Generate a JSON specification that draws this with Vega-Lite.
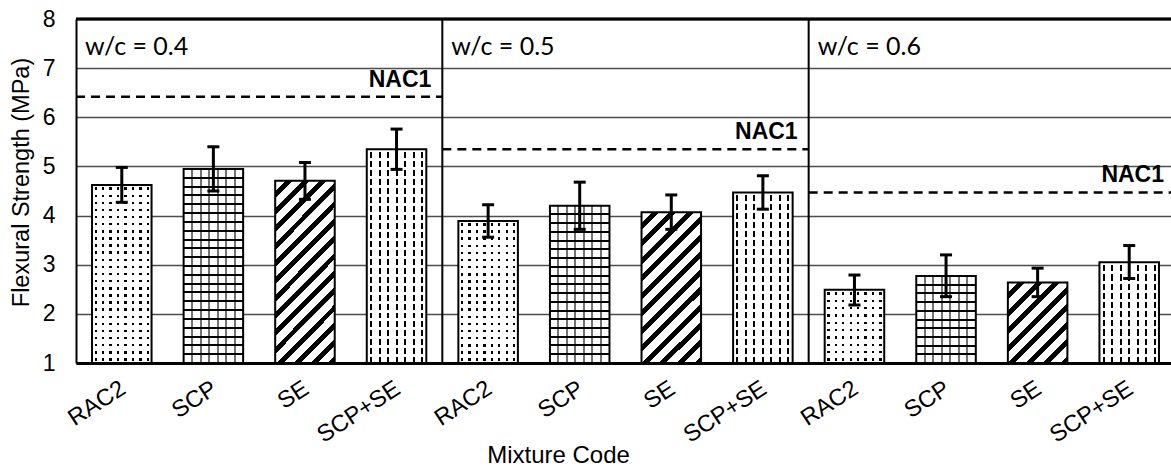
{
"$schema": "https://vega.github.io/schema/vega-lite/v6.json",
"width": 1099, "height": 344,
"autosize": {"type": "none"},
"padding": {"left": 76, "top": 19, "right": 0, "bottom": 105},
"background": "white",
"config": {"view": {"stroke": null}, "font": "Liberation Sans",
"axis": {"labelColor": "#000", "titleColor": "#000", "labelFont": "Liberation Sans", "titleFont": "Liberation Sans"},
"axisY": {"tickCount": 8, "grid": true, "gridColor": "#4d4d4d", "gridWidth": 1.3, "domainColor": "#000", "domainWidth": 2, "ticks": false, "tickSize": 0, "labelPadding": 21, "labelFontSize": 23, "titleFontSize": 23.5, "titleFontWeight": "normal", "titlePadding": 9}},
"datasets": {
"bars": [
{"wc":"0.4","code":"RAC2","id":"0.4 RAC2","mean":4.62,"lo":4.27,"hi":4.98},
{"wc":"0.4","code":"SCP","id":"0.4 SCP","mean":4.95,"lo":4.50,"hi":5.40},
{"wc":"0.4","code":"SE","id":"0.4 SE","mean":4.71,"lo":4.33,"hi":5.08},
{"wc":"0.4","code":"SCP+SE","id":"0.4 SCP+SE","mean":5.35,"lo":4.94,"hi":5.76},
{"wc":"0.5","code":"RAC2","id":"0.5 RAC2","mean":3.89,"lo":3.56,"hi":4.22},
{"wc":"0.5","code":"SCP","id":"0.5 SCP","mean":4.20,"lo":3.72,"hi":4.68},
{"wc":"0.5","code":"SE","id":"0.5 SE","mean":4.07,"lo":3.72,"hi":4.42},
{"wc":"0.5","code":"SCP+SE","id":"0.5 SCP+SE","mean":4.47,"lo":4.13,"hi":4.81},
{"wc":"0.6","code":"RAC2","id":"0.6 RAC2","mean":2.49,"lo":2.18,"hi":2.79},
{"wc":"0.6","code":"SCP","id":"0.6 SCP","mean":2.77,"lo":2.35,"hi":3.20},
{"wc":"0.6","code":"SE","id":"0.6 SE","mean":2.64,"lo":2.35,"hi":2.93},
{"wc":"0.6","code":"SCP+SE","id":"0.6 SCP+SE","mean":3.05,"lo":2.72,"hi":3.39}
],
"groups": [
{"wc":"0.4","g0":0,"g1":4,"nac":6.42,"label":"w/c = 0.4"},
{"wc":"0.5","g0":4,"g1":8,"nac":5.35,"label":"w/c = 0.5"},
{"wc":"0.6","g0":8,"g1":12,"nac":4.47,"label":"w/c = 0.6"}
]
},
"resolve": {"scale": {"x": "independent"}, "axis": {"x": "independent"}},
"layer": [
{
"data": {"name": "bars"},
"encoding": {
"x": {"field": "id", "type": "nominal", "sort": null, "title": "Mixture Code",
"scale": {"paddingInner": 0.35, "paddingOuter": 0.175},
"axis": {"labelExpr": "split(datum.label, ' ')[1]", "labelAngle": -33, "labelAlign": "right", "labelBaseline": "top", "labelFontSize": 23.5, "labelPadding": 13, "labelOffset": -5, "ticks": false, "tickSize": 0, "domainColor": "#000", "domainWidth": 3, "titleFontSize": 24, "titleFontWeight": "normal", "titleX": 482, "titleY": 99, "titleBaseline": "alphabetic"}}
},
"layer": [
{
"encoding": {
"y": {"field": "mean", "type": "quantitative", "title": "Flexural Strength (MPa)", "scale": {"domain": [1, 8], "nice": false, "zero": false},
"axis": {"tickCount": 8, "grid": true, "gridColor": "#4d4d4d", "gridWidth": 1.3, "domainColor": "#000", "domainWidth": 2, "ticks": false, "tickSize": 0, "labelPadding": 21, "labelFontSize": 23, "titleFontSize": 23.5, "titleFontWeight": "normal", "titlePadding": 9, "titleY": 163}},
"y2": {"datum": 1}
},
"layer": [
{"mark": {"type": "bar"},
"encoding": {"fill": {"condition": [
{"test": "datum.code==='SE' && datum.wc==='0.4'", "value": {"gradient":"linear","x1":0,"y1":0,"x2":0.395,"y2":1.2,"stops":[
{"offset":0,"color":"#fff"},
{"offset":0.0429,"color":"#fff"},{"offset":0.0429,"color":"#000"},{"offset":0.0714,"color":"#000"},{"offset":0.0714,"color":"#fff"},
{"offset":0.1143,"color":"#fff"},{"offset":0.1143,"color":"#000"},{"offset":0.1429,"color":"#000"},{"offset":0.1429,"color":"#fff"},
{"offset":0.1857,"color":"#fff"},{"offset":0.1857,"color":"#000"},{"offset":0.2143,"color":"#000"},{"offset":0.2143,"color":"#fff"},
{"offset":0.2571,"color":"#fff"},{"offset":0.2571,"color":"#000"},{"offset":0.2857,"color":"#000"},{"offset":0.2857,"color":"#fff"},
{"offset":0.3286,"color":"#fff"},{"offset":0.3286,"color":"#000"},{"offset":0.3571,"color":"#000"},{"offset":0.3571,"color":"#fff"},
{"offset":0.4,"color":"#fff"},{"offset":0.4,"color":"#000"},{"offset":0.4286,"color":"#000"},{"offset":0.4286,"color":"#fff"},
{"offset":0.4714,"color":"#fff"},{"offset":0.4714,"color":"#000"},{"offset":0.5,"color":"#000"},{"offset":0.5,"color":"#fff"},
{"offset":0.5429,"color":"#fff"},{"offset":0.5429,"color":"#000"},{"offset":0.5714,"color":"#000"},{"offset":0.5714,"color":"#fff"},
{"offset":0.6143,"color":"#fff"},{"offset":0.6143,"color":"#000"},{"offset":0.6429,"color":"#000"},{"offset":0.6429,"color":"#fff"},
{"offset":0.6857,"color":"#fff"},{"offset":0.6857,"color":"#000"},{"offset":0.7143,"color":"#000"},{"offset":0.7143,"color":"#fff"},
{"offset":0.7571,"color":"#fff"},{"offset":0.7571,"color":"#000"},{"offset":0.7857,"color":"#000"},{"offset":0.7857,"color":"#fff"},
{"offset":0.8286,"color":"#fff"},{"offset":0.8286,"color":"#000"},{"offset":0.8571,"color":"#000"},{"offset":0.8571,"color":"#fff"},
{"offset":0.9,"color":"#fff"},{"offset":0.9,"color":"#000"},{"offset":0.9286,"color":"#000"},{"offset":0.9286,"color":"#fff"},
{"offset":0.9714,"color":"#fff"},{"offset":0.9714,"color":"#000"},{"offset":1,"color":"#000"}]}},
{"test": "datum.code==='SE' && datum.wc==='0.5'", "value": {"gradient":"linear","x1":0,"y1":0,"x2":0.475,"y2":1.207,"stops":[
{"offset":0,"color":"#fff"},
{"offset":0.05,"color":"#fff"},{"offset":0.05,"color":"#000"},{"offset":0.0833,"color":"#000"},{"offset":0.0833,"color":"#fff"},
{"offset":0.1333,"color":"#fff"},{"offset":0.1333,"color":"#000"},{"offset":0.1667,"color":"#000"},{"offset":0.1667,"color":"#fff"},
{"offset":0.2167,"color":"#fff"},{"offset":0.2167,"color":"#000"},{"offset":0.25,"color":"#000"},{"offset":0.25,"color":"#fff"},
{"offset":0.3,"color":"#fff"},{"offset":0.3,"color":"#000"},{"offset":0.3333,"color":"#000"},{"offset":0.3333,"color":"#fff"},
{"offset":0.3833,"color":"#fff"},{"offset":0.3833,"color":"#000"},{"offset":0.4167,"color":"#000"},{"offset":0.4167,"color":"#fff"},
{"offset":0.4667,"color":"#fff"},{"offset":0.4667,"color":"#000"},{"offset":0.5,"color":"#000"},{"offset":0.5,"color":"#fff"},
{"offset":0.55,"color":"#fff"},{"offset":0.55,"color":"#000"},{"offset":0.5833,"color":"#000"},{"offset":0.5833,"color":"#fff"},
{"offset":0.6333,"color":"#fff"},{"offset":0.6333,"color":"#000"},{"offset":0.6667,"color":"#000"},{"offset":0.6667,"color":"#fff"},
{"offset":0.7167,"color":"#fff"},{"offset":0.7167,"color":"#000"},{"offset":0.75,"color":"#000"},{"offset":0.75,"color":"#fff"},
{"offset":0.8,"color":"#fff"},{"offset":0.8,"color":"#000"},{"offset":0.8333,"color":"#000"},{"offset":0.8333,"color":"#fff"},
{"offset":0.8833,"color":"#fff"},{"offset":0.8833,"color":"#000"},{"offset":0.9167,"color":"#000"},{"offset":0.9167,"color":"#fff"},
{"offset":0.9667,"color":"#fff"},{"offset":0.9667,"color":"#000"},{"offset":1,"color":"#000"}]}},
{"test": "datum.code==='SE' && datum.wc==='0.6'", "value": {"gradient":"linear","x1":0,"y1":0,"x2":0.828,"y2":1.127,"stops":[
{"offset":0,"color":"#fff"},
{"offset":0.075,"color":"#fff"},{"offset":0.075,"color":"#000"},{"offset":0.125,"color":"#000"},{"offset":0.125,"color":"#fff"},
{"offset":0.2,"color":"#fff"},{"offset":0.2,"color":"#000"},{"offset":0.25,"color":"#000"},{"offset":0.25,"color":"#fff"},
{"offset":0.325,"color":"#fff"},{"offset":0.325,"color":"#000"},{"offset":0.375,"color":"#000"},{"offset":0.375,"color":"#fff"},
{"offset":0.45,"color":"#fff"},{"offset":0.45,"color":"#000"},{"offset":0.5,"color":"#000"},{"offset":0.5,"color":"#fff"},
{"offset":0.575,"color":"#fff"},{"offset":0.575,"color":"#000"},{"offset":0.625,"color":"#000"},{"offset":0.625,"color":"#fff"},
{"offset":0.7,"color":"#fff"},{"offset":0.7,"color":"#000"},{"offset":0.75,"color":"#000"},{"offset":0.75,"color":"#fff"},
{"offset":0.825,"color":"#fff"},{"offset":0.825,"color":"#000"},{"offset":0.875,"color":"#000"},{"offset":0.875,"color":"#fff"},
{"offset":0.95,"color":"#fff"},{"offset":0.95,"color":"#000"},{"offset":1,"color":"#000"}]}},
{"test": "datum.code==='SCP'", "value": "#fff"}
], "value": "#000"}}
},
{"mark": {"type": "bar"},
"encoding": {"fill": {"condition": [
{"test": "datum.code==='RAC2'", "value": {"gradient":"linear","x1":0,"y1":0,"x2":1,"y2":0,"stops":[
{"offset":0,"color":"#fff"},
{"offset":0.0425,"color":"#fff"},{"offset":0.0425,"color":"rgba(255,255,255,0)"},{"offset":0.0825,"color":"rgba(255,255,255,0)"},{"offset":0.0825,"color":"#fff"},
{"offset":0.1675,"color":"#fff"},{"offset":0.1675,"color":"rgba(255,255,255,0)"},{"offset":0.2075,"color":"rgba(255,255,255,0)"},{"offset":0.2075,"color":"#fff"},
{"offset":0.2925,"color":"#fff"},{"offset":0.2925,"color":"rgba(255,255,255,0)"},{"offset":0.3325,"color":"rgba(255,255,255,0)"},{"offset":0.3325,"color":"#fff"},
{"offset":0.4175,"color":"#fff"},{"offset":0.4175,"color":"rgba(255,255,255,0)"},{"offset":0.4575,"color":"rgba(255,255,255,0)"},{"offset":0.4575,"color":"#fff"},
{"offset":0.5425,"color":"#fff"},{"offset":0.5425,"color":"rgba(255,255,255,0)"},{"offset":0.5825,"color":"rgba(255,255,255,0)"},{"offset":0.5825,"color":"#fff"},
{"offset":0.6675,"color":"#fff"},{"offset":0.6675,"color":"rgba(255,255,255,0)"},{"offset":0.7075,"color":"rgba(255,255,255,0)"},{"offset":0.7075,"color":"#fff"},
{"offset":0.7925,"color":"#fff"},{"offset":0.7925,"color":"rgba(255,255,255,0)"},{"offset":0.8325,"color":"rgba(255,255,255,0)"},{"offset":0.8325,"color":"#fff"},
{"offset":0.9175,"color":"#fff"},{"offset":0.9175,"color":"rgba(255,255,255,0)"},{"offset":0.9575,"color":"rgba(255,255,255,0)"},{"offset":0.9575,"color":"#fff"},
{"offset":1,"color":"#fff"}]}},
{"test": "datum.code==='SCP'", "value": {"gradient":"linear","x1":0,"y1":0,"x2":1,"y2":0,"stops":[
{"offset":0,"color":"rgba(0,0,0,0)"},
{"offset":0.126,"color":"rgba(0,0,0,0)"},{"offset":0.126,"color":"rgba(0,0,0,0.55)"},{"offset":0.16,"color":"rgba(0,0,0,0.55)"},{"offset":0.16,"color":"rgba(0,0,0,0)"},
{"offset":0.269,"color":"rgba(0,0,0,0)"},{"offset":0.269,"color":"rgba(0,0,0,0.55)"},{"offset":0.303,"color":"rgba(0,0,0,0.55)"},{"offset":0.303,"color":"rgba(0,0,0,0)"},
{"offset":0.412,"color":"rgba(0,0,0,0)"},{"offset":0.412,"color":"rgba(0,0,0,0.55)"},{"offset":0.446,"color":"rgba(0,0,0,0.55)"},{"offset":0.446,"color":"rgba(0,0,0,0)"},
{"offset":0.554,"color":"rgba(0,0,0,0)"},{"offset":0.554,"color":"rgba(0,0,0,0.55)"},{"offset":0.588,"color":"rgba(0,0,0,0.55)"},{"offset":0.588,"color":"rgba(0,0,0,0)"},
{"offset":0.697,"color":"rgba(0,0,0,0)"},{"offset":0.697,"color":"rgba(0,0,0,0.55)"},{"offset":0.731,"color":"rgba(0,0,0,0.55)"},{"offset":0.731,"color":"rgba(0,0,0,0)"},
{"offset":0.84,"color":"rgba(0,0,0,0)"},{"offset":0.84,"color":"rgba(0,0,0,0.55)"},{"offset":0.874,"color":"rgba(0,0,0,0.55)"},{"offset":0.874,"color":"rgba(0,0,0,0)"},
{"offset":1,"color":"rgba(0,0,0,0)"}]}},
{"test": "datum.code==='SCP+SE'", "value": {"gradient":"linear","x1":0,"y1":0,"x2":1,"y2":0,"stops":[
{"offset":0,"color":"#fff"},
{"offset":0.055,"color":"#fff"},{"offset":0.055,"color":"rgba(255,255,255,0)"},{"offset":0.088,"color":"rgba(255,255,255,0)"},{"offset":0.088,"color":"#fff"},
{"offset":0.198,"color":"#fff"},{"offset":0.198,"color":"rgba(255,255,255,0)"},{"offset":0.231,"color":"rgba(255,255,255,0)"},{"offset":0.231,"color":"#fff"},
{"offset":0.34,"color":"#fff"},{"offset":0.34,"color":"rgba(255,255,255,0)"},{"offset":0.374,"color":"rgba(255,255,255,0)"},{"offset":0.374,"color":"#fff"},
{"offset":0.483,"color":"#fff"},{"offset":0.483,"color":"rgba(255,255,255,0)"},{"offset":0.517,"color":"rgba(255,255,255,0)"},{"offset":0.517,"color":"#fff"},
{"offset":0.626,"color":"#fff"},{"offset":0.626,"color":"rgba(255,255,255,0)"},{"offset":0.66,"color":"rgba(255,255,255,0)"},{"offset":0.66,"color":"#fff"},
{"offset":0.769,"color":"#fff"},{"offset":0.769,"color":"rgba(255,255,255,0)"},{"offset":0.802,"color":"rgba(255,255,255,0)"},{"offset":0.802,"color":"#fff"},
{"offset":0.912,"color":"#fff"},{"offset":0.912,"color":"rgba(255,255,255,0)"},{"offset":0.945,"color":"rgba(255,255,255,0)"},{"offset":0.945,"color":"#fff"},
{"offset":1,"color":"#fff"}]}}
], "value": "transparent"}}
},
{"mark": {"type": "bar"},
"encoding": {"fill": {"condition": [
{"test": "datum.code==='RAC2' && datum.wc==='0.4'", "value": {"gradient":"linear","x1":0,"y1":0,"x2":0,"y2":1,"stops":[
{"offset":0,"color":"#fff"},
{"offset":0.013,"color":"#fff"},{"offset":0.013,"color":"rgba(255,255,255,0)"},{"offset":0.027,"color":"rgba(255,255,255,0)"},{"offset":0.027,"color":"#fff"},
{"offset":0.053,"color":"#fff"},{"offset":0.053,"color":"rgba(255,255,255,0)"},{"offset":0.067,"color":"rgba(255,255,255,0)"},{"offset":0.067,"color":"#fff"},
{"offset":0.093,"color":"#fff"},{"offset":0.093,"color":"rgba(255,255,255,0)"},{"offset":0.107,"color":"rgba(255,255,255,0)"},{"offset":0.107,"color":"#fff"},
{"offset":0.133,"color":"#fff"},{"offset":0.133,"color":"rgba(255,255,255,0)"},{"offset":0.147,"color":"rgba(255,255,255,0)"},{"offset":0.147,"color":"#fff"},
{"offset":0.173,"color":"#fff"},{"offset":0.173,"color":"rgba(255,255,255,0)"},{"offset":0.187,"color":"rgba(255,255,255,0)"},{"offset":0.187,"color":"#fff"},
{"offset":0.213,"color":"#fff"},{"offset":0.213,"color":"rgba(255,255,255,0)"},{"offset":0.227,"color":"rgba(255,255,255,0)"},{"offset":0.227,"color":"#fff"},
{"offset":0.253,"color":"#fff"},{"offset":0.253,"color":"rgba(255,255,255,0)"},{"offset":0.267,"color":"rgba(255,255,255,0)"},{"offset":0.267,"color":"#fff"},
{"offset":0.293,"color":"#fff"},{"offset":0.293,"color":"rgba(255,255,255,0)"},{"offset":0.307,"color":"rgba(255,255,255,0)"},{"offset":0.307,"color":"#fff"},
{"offset":0.333,"color":"#fff"},{"offset":0.333,"color":"rgba(255,255,255,0)"},{"offset":0.347,"color":"rgba(255,255,255,0)"},{"offset":0.347,"color":"#fff"},
{"offset":0.373,"color":"#fff"},{"offset":0.373,"color":"rgba(255,255,255,0)"},{"offset":0.387,"color":"rgba(255,255,255,0)"},{"offset":0.387,"color":"#fff"},
{"offset":0.413,"color":"#fff"},{"offset":0.413,"color":"rgba(255,255,255,0)"},{"offset":0.427,"color":"rgba(255,255,255,0)"},{"offset":0.427,"color":"#fff"},
{"offset":0.453,"color":"#fff"},{"offset":0.453,"color":"rgba(255,255,255,0)"},{"offset":0.467,"color":"rgba(255,255,255,0)"},{"offset":0.467,"color":"#fff"},
{"offset":0.493,"color":"#fff"},{"offset":0.493,"color":"rgba(255,255,255,0)"},{"offset":0.507,"color":"rgba(255,255,255,0)"},{"offset":0.507,"color":"#fff"},
{"offset":0.533,"color":"#fff"},{"offset":0.533,"color":"rgba(255,255,255,0)"},{"offset":0.547,"color":"rgba(255,255,255,0)"},{"offset":0.547,"color":"#fff"},
{"offset":0.573,"color":"#fff"},{"offset":0.573,"color":"rgba(255,255,255,0)"},{"offset":0.587,"color":"rgba(255,255,255,0)"},{"offset":0.587,"color":"#fff"},
{"offset":0.613,"color":"#fff"},{"offset":0.613,"color":"rgba(255,255,255,0)"},{"offset":0.627,"color":"rgba(255,255,255,0)"},{"offset":0.627,"color":"#fff"},
{"offset":0.653,"color":"#fff"},{"offset":0.653,"color":"rgba(255,255,255,0)"},{"offset":0.667,"color":"rgba(255,255,255,0)"},{"offset":0.667,"color":"#fff"},
{"offset":0.693,"color":"#fff"},{"offset":0.693,"color":"rgba(255,255,255,0)"},{"offset":0.707,"color":"rgba(255,255,255,0)"},{"offset":0.707,"color":"#fff"},
{"offset":0.733,"color":"#fff"},{"offset":0.733,"color":"rgba(255,255,255,0)"},{"offset":0.747,"color":"rgba(255,255,255,0)"},{"offset":0.747,"color":"#fff"},
{"offset":0.773,"color":"#fff"},{"offset":0.773,"color":"rgba(255,255,255,0)"},{"offset":0.787,"color":"rgba(255,255,255,0)"},{"offset":0.787,"color":"#fff"},
{"offset":0.813,"color":"#fff"},{"offset":0.813,"color":"rgba(255,255,255,0)"},{"offset":0.827,"color":"rgba(255,255,255,0)"},{"offset":0.827,"color":"#fff"},
{"offset":0.853,"color":"#fff"},{"offset":0.853,"color":"rgba(255,255,255,0)"},{"offset":0.867,"color":"rgba(255,255,255,0)"},{"offset":0.867,"color":"#fff"},
{"offset":0.893,"color":"#fff"},{"offset":0.893,"color":"rgba(255,255,255,0)"},{"offset":0.907,"color":"rgba(255,255,255,0)"},{"offset":0.907,"color":"#fff"},
{"offset":0.933,"color":"#fff"},{"offset":0.933,"color":"rgba(255,255,255,0)"},{"offset":0.947,"color":"rgba(255,255,255,0)"},{"offset":0.947,"color":"#fff"},
{"offset":0.973,"color":"#fff"},{"offset":0.973,"color":"rgba(255,255,255,0)"},{"offset":0.987,"color":"rgba(255,255,255,0)"},{"offset":0.987,"color":"#fff"},
{"offset":1,"color":"#fff"}]}},
{"test": "datum.code==='RAC2' && datum.wc==='0.5'", "value": {"gradient":"linear","x1":0,"y1":0,"x2":0,"y2":1,"stops":[
{"offset":0,"color":"#fff"},
{"offset":0.016,"color":"#fff"},{"offset":0.016,"color":"rgba(255,255,255,0)"},{"offset":0.034,"color":"rgba(255,255,255,0)"},{"offset":0.034,"color":"#fff"},
{"offset":0.066,"color":"#fff"},{"offset":0.066,"color":"rgba(255,255,255,0)"},{"offset":0.084,"color":"rgba(255,255,255,0)"},{"offset":0.084,"color":"#fff"},
{"offset":0.116,"color":"#fff"},{"offset":0.116,"color":"rgba(255,255,255,0)"},{"offset":0.134,"color":"rgba(255,255,255,0)"},{"offset":0.134,"color":"#fff"},
{"offset":0.166,"color":"#fff"},{"offset":0.166,"color":"rgba(255,255,255,0)"},{"offset":0.184,"color":"rgba(255,255,255,0)"},{"offset":0.184,"color":"#fff"},
{"offset":0.216,"color":"#fff"},{"offset":0.216,"color":"rgba(255,255,255,0)"},{"offset":0.234,"color":"rgba(255,255,255,0)"},{"offset":0.234,"color":"#fff"},
{"offset":0.266,"color":"#fff"},{"offset":0.266,"color":"rgba(255,255,255,0)"},{"offset":0.284,"color":"rgba(255,255,255,0)"},{"offset":0.284,"color":"#fff"},
{"offset":0.316,"color":"#fff"},{"offset":0.316,"color":"rgba(255,255,255,0)"},{"offset":0.334,"color":"rgba(255,255,255,0)"},{"offset":0.334,"color":"#fff"},
{"offset":0.366,"color":"#fff"},{"offset":0.366,"color":"rgba(255,255,255,0)"},{"offset":0.384,"color":"rgba(255,255,255,0)"},{"offset":0.384,"color":"#fff"},
{"offset":0.416,"color":"#fff"},{"offset":0.416,"color":"rgba(255,255,255,0)"},{"offset":0.434,"color":"rgba(255,255,255,0)"},{"offset":0.434,"color":"#fff"},
{"offset":0.466,"color":"#fff"},{"offset":0.466,"color":"rgba(255,255,255,0)"},{"offset":0.484,"color":"rgba(255,255,255,0)"},{"offset":0.484,"color":"#fff"},
{"offset":0.516,"color":"#fff"},{"offset":0.516,"color":"rgba(255,255,255,0)"},{"offset":0.534,"color":"rgba(255,255,255,0)"},{"offset":0.534,"color":"#fff"},
{"offset":0.566,"color":"#fff"},{"offset":0.566,"color":"rgba(255,255,255,0)"},{"offset":0.584,"color":"rgba(255,255,255,0)"},{"offset":0.584,"color":"#fff"},
{"offset":0.616,"color":"#fff"},{"offset":0.616,"color":"rgba(255,255,255,0)"},{"offset":0.634,"color":"rgba(255,255,255,0)"},{"offset":0.634,"color":"#fff"},
{"offset":0.666,"color":"#fff"},{"offset":0.666,"color":"rgba(255,255,255,0)"},{"offset":0.684,"color":"rgba(255,255,255,0)"},{"offset":0.684,"color":"#fff"},
{"offset":0.716,"color":"#fff"},{"offset":0.716,"color":"rgba(255,255,255,0)"},{"offset":0.734,"color":"rgba(255,255,255,0)"},{"offset":0.734,"color":"#fff"},
{"offset":0.766,"color":"#fff"},{"offset":0.766,"color":"rgba(255,255,255,0)"},{"offset":0.784,"color":"rgba(255,255,255,0)"},{"offset":0.784,"color":"#fff"},
{"offset":0.816,"color":"#fff"},{"offset":0.816,"color":"rgba(255,255,255,0)"},{"offset":0.834,"color":"rgba(255,255,255,0)"},{"offset":0.834,"color":"#fff"},
{"offset":0.866,"color":"#fff"},{"offset":0.866,"color":"rgba(255,255,255,0)"},{"offset":0.884,"color":"rgba(255,255,255,0)"},{"offset":0.884,"color":"#fff"},
{"offset":0.916,"color":"#fff"},{"offset":0.916,"color":"rgba(255,255,255,0)"},{"offset":0.934,"color":"rgba(255,255,255,0)"},{"offset":0.934,"color":"#fff"},
{"offset":0.966,"color":"#fff"},{"offset":0.966,"color":"rgba(255,255,255,0)"},{"offset":0.984,"color":"rgba(255,255,255,0)"},{"offset":0.984,"color":"#fff"},
{"offset":1,"color":"#fff"}]}},
{"test": "datum.code==='RAC2' && datum.wc==='0.6'", "value": {"gradient":"linear","x1":0,"y1":0,"x2":0,"y2":1,"stops":[
{"offset":0,"color":"#fff"},
{"offset":0.034,"color":"#fff"},{"offset":0.034,"color":"rgba(255,255,255,0)"},{"offset":0.066,"color":"rgba(255,255,255,0)"},{"offset":0.066,"color":"#fff"},
{"offset":0.134,"color":"#fff"},{"offset":0.134,"color":"rgba(255,255,255,0)"},{"offset":0.166,"color":"rgba(255,255,255,0)"},{"offset":0.166,"color":"#fff"},
{"offset":0.234,"color":"#fff"},{"offset":0.234,"color":"rgba(255,255,255,0)"},{"offset":0.266,"color":"rgba(255,255,255,0)"},{"offset":0.266,"color":"#fff"},
{"offset":0.334,"color":"#fff"},{"offset":0.334,"color":"rgba(255,255,255,0)"},{"offset":0.366,"color":"rgba(255,255,255,0)"},{"offset":0.366,"color":"#fff"},
{"offset":0.434,"color":"#fff"},{"offset":0.434,"color":"rgba(255,255,255,0)"},{"offset":0.466,"color":"rgba(255,255,255,0)"},{"offset":0.466,"color":"#fff"},
{"offset":0.534,"color":"#fff"},{"offset":0.534,"color":"rgba(255,255,255,0)"},{"offset":0.566,"color":"rgba(255,255,255,0)"},{"offset":0.566,"color":"#fff"},
{"offset":0.634,"color":"#fff"},{"offset":0.634,"color":"rgba(255,255,255,0)"},{"offset":0.666,"color":"rgba(255,255,255,0)"},{"offset":0.666,"color":"#fff"},
{"offset":0.734,"color":"#fff"},{"offset":0.734,"color":"rgba(255,255,255,0)"},{"offset":0.766,"color":"rgba(255,255,255,0)"},{"offset":0.766,"color":"#fff"},
{"offset":0.834,"color":"#fff"},{"offset":0.834,"color":"rgba(255,255,255,0)"},{"offset":0.866,"color":"rgba(255,255,255,0)"},{"offset":0.866,"color":"#fff"},
{"offset":0.934,"color":"#fff"},{"offset":0.934,"color":"rgba(255,255,255,0)"},{"offset":0.966,"color":"rgba(255,255,255,0)"},{"offset":0.966,"color":"#fff"},
{"offset":1,"color":"#fff"}]}},
{"test": "datum.code==='SCP' && datum.wc==='0.4'", "value": {"gradient":"linear","x1":0,"y1":0,"x2":0,"y2":1,"stops":[
{"offset":0,"color":"rgba(0,0,0,0)"},
{"offset":0.04,"color":"rgba(0,0,0,0)"},{"offset":0.04,"color":"#000"},{"offset":0.051,"color":"#000"},{"offset":0.051,"color":"rgba(0,0,0,0)"},
{"offset":0.086,"color":"rgba(0,0,0,0)"},{"offset":0.086,"color":"#000"},{"offset":0.096,"color":"#000"},{"offset":0.096,"color":"rgba(0,0,0,0)"},
{"offset":0.131,"color":"rgba(0,0,0,0)"},{"offset":0.131,"color":"#000"},{"offset":0.141,"color":"#000"},{"offset":0.141,"color":"rgba(0,0,0,0)"},
{"offset":0.177,"color":"rgba(0,0,0,0)"},{"offset":0.177,"color":"#000"},{"offset":0.187,"color":"#000"},{"offset":0.187,"color":"rgba(0,0,0,0)"},
{"offset":0.222,"color":"rgba(0,0,0,0)"},{"offset":0.222,"color":"#000"},{"offset":0.232,"color":"#000"},{"offset":0.232,"color":"rgba(0,0,0,0)"},
{"offset":0.268,"color":"rgba(0,0,0,0)"},{"offset":0.268,"color":"#000"},{"offset":0.278,"color":"#000"},{"offset":0.278,"color":"rgba(0,0,0,0)"},
{"offset":0.313,"color":"rgba(0,0,0,0)"},{"offset":0.313,"color":"#000"},{"offset":0.323,"color":"#000"},{"offset":0.323,"color":"rgba(0,0,0,0)"},
{"offset":0.359,"color":"rgba(0,0,0,0)"},{"offset":0.359,"color":"#000"},{"offset":0.369,"color":"#000"},{"offset":0.369,"color":"rgba(0,0,0,0)"},
{"offset":0.404,"color":"rgba(0,0,0,0)"},{"offset":0.404,"color":"#000"},{"offset":0.414,"color":"#000"},{"offset":0.414,"color":"rgba(0,0,0,0)"},
{"offset":0.45,"color":"rgba(0,0,0,0)"},{"offset":0.45,"color":"#000"},{"offset":0.46,"color":"#000"},{"offset":0.46,"color":"rgba(0,0,0,0)"},
{"offset":0.495,"color":"rgba(0,0,0,0)"},{"offset":0.495,"color":"#000"},{"offset":0.505,"color":"#000"},{"offset":0.505,"color":"rgba(0,0,0,0)"},
{"offset":0.54,"color":"rgba(0,0,0,0)"},{"offset":0.54,"color":"#000"},{"offset":0.55,"color":"#000"},{"offset":0.55,"color":"rgba(0,0,0,0)"},
{"offset":0.586,"color":"rgba(0,0,0,0)"},{"offset":0.586,"color":"#000"},{"offset":0.596,"color":"#000"},{"offset":0.596,"color":"rgba(0,0,0,0)"},
{"offset":0.631,"color":"rgba(0,0,0,0)"},{"offset":0.631,"color":"#000"},{"offset":0.641,"color":"#000"},{"offset":0.641,"color":"rgba(0,0,0,0)"},
{"offset":0.677,"color":"rgba(0,0,0,0)"},{"offset":0.677,"color":"#000"},{"offset":0.687,"color":"#000"},{"offset":0.687,"color":"rgba(0,0,0,0)"},
{"offset":0.722,"color":"rgba(0,0,0,0)"},{"offset":0.722,"color":"#000"},{"offset":0.732,"color":"#000"},{"offset":0.732,"color":"rgba(0,0,0,0)"},
{"offset":0.768,"color":"rgba(0,0,0,0)"},{"offset":0.768,"color":"#000"},{"offset":0.778,"color":"#000"},{"offset":0.778,"color":"rgba(0,0,0,0)"},
{"offset":0.813,"color":"rgba(0,0,0,0)"},{"offset":0.813,"color":"#000"},{"offset":0.823,"color":"#000"},{"offset":0.823,"color":"rgba(0,0,0,0)"},
{"offset":0.859,"color":"rgba(0,0,0,0)"},{"offset":0.859,"color":"#000"},{"offset":0.869,"color":"#000"},{"offset":0.869,"color":"rgba(0,0,0,0)"},
{"offset":0.904,"color":"rgba(0,0,0,0)"},{"offset":0.904,"color":"#000"},{"offset":0.914,"color":"#000"},{"offset":0.914,"color":"rgba(0,0,0,0)"},
{"offset":0.95,"color":"rgba(0,0,0,0)"},{"offset":0.95,"color":"#000"},{"offset":0.96,"color":"#000"},{"offset":0.96,"color":"rgba(0,0,0,0)"},
{"offset":1,"color":"rgba(0,0,0,0)"}]}},
{"test": "datum.code==='SCP' && datum.wc==='0.5'", "value": {"gradient":"linear","x1":0,"y1":0,"x2":0,"y2":1,"stops":[
{"offset":0,"color":"rgba(0,0,0,0)"},
{"offset":0.049,"color":"rgba(0,0,0,0)"},{"offset":0.049,"color":"#000"},{"offset":0.062,"color":"#000"},{"offset":0.062,"color":"rgba(0,0,0,0)"},
{"offset":0.105,"color":"rgba(0,0,0,0)"},{"offset":0.105,"color":"#000"},{"offset":0.118,"color":"#000"},{"offset":0.118,"color":"rgba(0,0,0,0)"},
{"offset":0.16,"color":"rgba(0,0,0,0)"},{"offset":0.16,"color":"#000"},{"offset":0.173,"color":"#000"},{"offset":0.173,"color":"rgba(0,0,0,0)"},
{"offset":0.216,"color":"rgba(0,0,0,0)"},{"offset":0.216,"color":"#000"},{"offset":0.229,"color":"#000"},{"offset":0.229,"color":"rgba(0,0,0,0)"},
{"offset":0.271,"color":"rgba(0,0,0,0)"},{"offset":0.271,"color":"#000"},{"offset":0.284,"color":"#000"},{"offset":0.284,"color":"rgba(0,0,0,0)"},
{"offset":0.327,"color":"rgba(0,0,0,0)"},{"offset":0.327,"color":"#000"},{"offset":0.34,"color":"#000"},{"offset":0.34,"color":"rgba(0,0,0,0)"},
{"offset":0.382,"color":"rgba(0,0,0,0)"},{"offset":0.382,"color":"#000"},{"offset":0.395,"color":"#000"},{"offset":0.395,"color":"rgba(0,0,0,0)"},
{"offset":0.438,"color":"rgba(0,0,0,0)"},{"offset":0.438,"color":"#000"},{"offset":0.451,"color":"#000"},{"offset":0.451,"color":"rgba(0,0,0,0)"},
{"offset":0.494,"color":"rgba(0,0,0,0)"},{"offset":0.494,"color":"#000"},{"offset":0.506,"color":"#000"},{"offset":0.506,"color":"rgba(0,0,0,0)"},
{"offset":0.549,"color":"rgba(0,0,0,0)"},{"offset":0.549,"color":"#000"},{"offset":0.562,"color":"#000"},{"offset":0.562,"color":"rgba(0,0,0,0)"},
{"offset":0.605,"color":"rgba(0,0,0,0)"},{"offset":0.605,"color":"#000"},{"offset":0.618,"color":"#000"},{"offset":0.618,"color":"rgba(0,0,0,0)"},
{"offset":0.66,"color":"rgba(0,0,0,0)"},{"offset":0.66,"color":"#000"},{"offset":0.673,"color":"#000"},{"offset":0.673,"color":"rgba(0,0,0,0)"},
{"offset":0.716,"color":"rgba(0,0,0,0)"},{"offset":0.716,"color":"#000"},{"offset":0.729,"color":"#000"},{"offset":0.729,"color":"rgba(0,0,0,0)"},
{"offset":0.771,"color":"rgba(0,0,0,0)"},{"offset":0.771,"color":"#000"},{"offset":0.784,"color":"#000"},{"offset":0.784,"color":"rgba(0,0,0,0)"},
{"offset":0.827,"color":"rgba(0,0,0,0)"},{"offset":0.827,"color":"#000"},{"offset":0.84,"color":"#000"},{"offset":0.84,"color":"rgba(0,0,0,0)"},
{"offset":0.882,"color":"rgba(0,0,0,0)"},{"offset":0.882,"color":"#000"},{"offset":0.895,"color":"#000"},{"offset":0.895,"color":"rgba(0,0,0,0)"},
{"offset":0.938,"color":"rgba(0,0,0,0)"},{"offset":0.938,"color":"#000"},{"offset":0.951,"color":"#000"},{"offset":0.951,"color":"rgba(0,0,0,0)"},
{"offset":1,"color":"rgba(0,0,0,0)"}]}},
{"test": "datum.code==='SCP' && datum.wc==='0.6'", "value": {"gradient":"linear","x1":0,"y1":0,"x2":0,"y2":1,"stops":[
{"offset":0,"color":"rgba(0,0,0,0)"},
{"offset":0.089,"color":"rgba(0,0,0,0)"},{"offset":0.089,"color":"#000"},{"offset":0.112,"color":"#000"},{"offset":0.112,"color":"rgba(0,0,0,0)"},
{"offset":0.189,"color":"rgba(0,0,0,0)"},{"offset":0.189,"color":"#000"},{"offset":0.212,"color":"#000"},{"offset":0.212,"color":"rgba(0,0,0,0)"},
{"offset":0.289,"color":"rgba(0,0,0,0)"},{"offset":0.289,"color":"#000"},{"offset":0.312,"color":"#000"},{"offset":0.312,"color":"rgba(0,0,0,0)"},
{"offset":0.389,"color":"rgba(0,0,0,0)"},{"offset":0.389,"color":"#000"},{"offset":0.412,"color":"#000"},{"offset":0.412,"color":"rgba(0,0,0,0)"},
{"offset":0.489,"color":"rgba(0,0,0,0)"},{"offset":0.489,"color":"#000"},{"offset":0.512,"color":"#000"},{"offset":0.512,"color":"rgba(0,0,0,0)"},
{"offset":0.589,"color":"rgba(0,0,0,0)"},{"offset":0.589,"color":"#000"},{"offset":0.612,"color":"#000"},{"offset":0.612,"color":"rgba(0,0,0,0)"},
{"offset":0.689,"color":"rgba(0,0,0,0)"},{"offset":0.689,"color":"#000"},{"offset":0.712,"color":"#000"},{"offset":0.712,"color":"rgba(0,0,0,0)"},
{"offset":0.789,"color":"rgba(0,0,0,0)"},{"offset":0.789,"color":"#000"},{"offset":0.812,"color":"#000"},{"offset":0.812,"color":"rgba(0,0,0,0)"},
{"offset":0.889,"color":"rgba(0,0,0,0)"},{"offset":0.889,"color":"#000"},{"offset":0.912,"color":"#000"},{"offset":0.912,"color":"rgba(0,0,0,0)"},
{"offset":1,"color":"rgba(0,0,0,0)"}]}},
{"test": "datum.code==='SCP+SE' && datum.wc==='0.4'", "value": {"gradient":"linear","x1":0,"y1":0,"x2":0,"y2":1,"stops":[
{"offset":0,"color":"#fff"},{"offset":0.0138,"color":"#fff"},{"offset":0.0138,"color":"rgba(255,255,255,0)"},
{"offset":0.0417,"color":"rgba(255,255,255,0)"},{"offset":0.0417,"color":"#fff"},{"offset":0.0555,"color":"#fff"},{"offset":0.0555,"color":"rgba(255,255,255,0)"},
{"offset":0.0833,"color":"rgba(255,255,255,0)"},{"offset":0.0833,"color":"#fff"},{"offset":0.0971,"color":"#fff"},{"offset":0.0971,"color":"rgba(255,255,255,0)"},
{"offset":0.125,"color":"rgba(255,255,255,0)"},{"offset":0.125,"color":"#fff"},{"offset":0.1388,"color":"#fff"},{"offset":0.1388,"color":"rgba(255,255,255,0)"},
{"offset":0.1667,"color":"rgba(255,255,255,0)"},{"offset":0.1667,"color":"#fff"},{"offset":0.1805,"color":"#fff"},{"offset":0.1805,"color":"rgba(255,255,255,0)"},
{"offset":0.2083,"color":"rgba(255,255,255,0)"},{"offset":0.2083,"color":"#fff"},{"offset":0.2221,"color":"#fff"},{"offset":0.2221,"color":"rgba(255,255,255,0)"},
{"offset":0.25,"color":"rgba(255,255,255,0)"},{"offset":0.25,"color":"#fff"},{"offset":0.2638,"color":"#fff"},{"offset":0.2638,"color":"rgba(255,255,255,0)"},
{"offset":0.2917,"color":"rgba(255,255,255,0)"},{"offset":0.2917,"color":"#fff"},{"offset":0.3055,"color":"#fff"},{"offset":0.3055,"color":"rgba(255,255,255,0)"},
{"offset":0.3333,"color":"rgba(255,255,255,0)"},{"offset":0.3333,"color":"#fff"},{"offset":0.3471,"color":"#fff"},{"offset":0.3471,"color":"rgba(255,255,255,0)"},
{"offset":0.375,"color":"rgba(255,255,255,0)"},{"offset":0.375,"color":"#fff"},{"offset":0.3888,"color":"#fff"},{"offset":0.3888,"color":"rgba(255,255,255,0)"},
{"offset":0.4167,"color":"rgba(255,255,255,0)"},{"offset":0.4167,"color":"#fff"},{"offset":0.4305,"color":"#fff"},{"offset":0.4305,"color":"rgba(255,255,255,0)"},
{"offset":0.4583,"color":"rgba(255,255,255,0)"},{"offset":0.4583,"color":"#fff"},{"offset":0.4721,"color":"#fff"},{"offset":0.4721,"color":"rgba(255,255,255,0)"},
{"offset":0.5,"color":"rgba(255,255,255,0)"},{"offset":0.5,"color":"#fff"},{"offset":0.5138,"color":"#fff"},{"offset":0.5138,"color":"rgba(255,255,255,0)"},
{"offset":0.5417,"color":"rgba(255,255,255,0)"},{"offset":0.5417,"color":"#fff"},{"offset":0.5555,"color":"#fff"},{"offset":0.5555,"color":"rgba(255,255,255,0)"},
{"offset":0.5833,"color":"rgba(255,255,255,0)"},{"offset":0.5833,"color":"#fff"},{"offset":0.5971,"color":"#fff"},{"offset":0.5971,"color":"rgba(255,255,255,0)"},
{"offset":0.625,"color":"rgba(255,255,255,0)"},{"offset":0.625,"color":"#fff"},{"offset":0.6388,"color":"#fff"},{"offset":0.6388,"color":"rgba(255,255,255,0)"},
{"offset":0.6667,"color":"rgba(255,255,255,0)"},{"offset":0.6667,"color":"#fff"},{"offset":0.6805,"color":"#fff"},{"offset":0.6805,"color":"rgba(255,255,255,0)"},
{"offset":0.7083,"color":"rgba(255,255,255,0)"},{"offset":0.7083,"color":"#fff"},{"offset":0.7221,"color":"#fff"},{"offset":0.7221,"color":"rgba(255,255,255,0)"},
{"offset":0.75,"color":"rgba(255,255,255,0)"},{"offset":0.75,"color":"#fff"},{"offset":0.7638,"color":"#fff"},{"offset":0.7638,"color":"rgba(255,255,255,0)"},
{"offset":0.7917,"color":"rgba(255,255,255,0)"},{"offset":0.7917,"color":"#fff"},{"offset":0.8055,"color":"#fff"},{"offset":0.8055,"color":"rgba(255,255,255,0)"},
{"offset":0.8333,"color":"rgba(255,255,255,0)"},{"offset":0.8333,"color":"#fff"},{"offset":0.8471,"color":"#fff"},{"offset":0.8471,"color":"rgba(255,255,255,0)"},
{"offset":0.875,"color":"rgba(255,255,255,0)"},{"offset":0.875,"color":"#fff"},{"offset":0.8888,"color":"#fff"},{"offset":0.8888,"color":"rgba(255,255,255,0)"},
{"offset":0.9167,"color":"rgba(255,255,255,0)"},{"offset":0.9167,"color":"#fff"},{"offset":0.9305,"color":"#fff"},{"offset":0.9305,"color":"rgba(255,255,255,0)"},
{"offset":0.9583,"color":"rgba(255,255,255,0)"},{"offset":0.9583,"color":"#fff"},{"offset":0.9721,"color":"#fff"},{"offset":0.9721,"color":"rgba(255,255,255,0)"},
{"offset":1,"color":"rgba(255,255,255,0)"}]}},
{"test": "datum.code==='SCP+SE' && datum.wc==='0.5'", "value": {"gradient":"linear","x1":0,"y1":0,"x2":0,"y2":1,"stops":[
{"offset":0,"color":"#fff"},{"offset":0.0174,"color":"#fff"},{"offset":0.0174,"color":"rgba(255,255,255,0)"},
{"offset":0.0526,"color":"rgba(255,255,255,0)"},{"offset":0.0526,"color":"#fff"},{"offset":0.07,"color":"#fff"},{"offset":0.07,"color":"rgba(255,255,255,0)"},
{"offset":0.1053,"color":"rgba(255,255,255,0)"},{"offset":0.1053,"color":"#fff"},{"offset":0.1227,"color":"#fff"},{"offset":0.1227,"color":"rgba(255,255,255,0)"},
{"offset":0.1579,"color":"rgba(255,255,255,0)"},{"offset":0.1579,"color":"#fff"},{"offset":0.1753,"color":"#fff"},{"offset":0.1753,"color":"rgba(255,255,255,0)"},
{"offset":0.2105,"color":"rgba(255,255,255,0)"},{"offset":0.2105,"color":"#fff"},{"offset":0.2279,"color":"#fff"},{"offset":0.2279,"color":"rgba(255,255,255,0)"},
{"offset":0.2632,"color":"rgba(255,255,255,0)"},{"offset":0.2632,"color":"#fff"},{"offset":0.2806,"color":"#fff"},{"offset":0.2806,"color":"rgba(255,255,255,0)"},
{"offset":0.3158,"color":"rgba(255,255,255,0)"},{"offset":0.3158,"color":"#fff"},{"offset":0.3332,"color":"#fff"},{"offset":0.3332,"color":"rgba(255,255,255,0)"},
{"offset":0.3684,"color":"rgba(255,255,255,0)"},{"offset":0.3684,"color":"#fff"},{"offset":0.3858,"color":"#fff"},{"offset":0.3858,"color":"rgba(255,255,255,0)"},
{"offset":0.4211,"color":"rgba(255,255,255,0)"},{"offset":0.4211,"color":"#fff"},{"offset":0.4385,"color":"#fff"},{"offset":0.4385,"color":"rgba(255,255,255,0)"},
{"offset":0.4737,"color":"rgba(255,255,255,0)"},{"offset":0.4737,"color":"#fff"},{"offset":0.4911,"color":"#fff"},{"offset":0.4911,"color":"rgba(255,255,255,0)"},
{"offset":0.5263,"color":"rgba(255,255,255,0)"},{"offset":0.5263,"color":"#fff"},{"offset":0.5437,"color":"#fff"},{"offset":0.5437,"color":"rgba(255,255,255,0)"},
{"offset":0.5789,"color":"rgba(255,255,255,0)"},{"offset":0.5789,"color":"#fff"},{"offset":0.5963,"color":"#fff"},{"offset":0.5963,"color":"rgba(255,255,255,0)"},
{"offset":0.6316,"color":"rgba(255,255,255,0)"},{"offset":0.6316,"color":"#fff"},{"offset":0.649,"color":"#fff"},{"offset":0.649,"color":"rgba(255,255,255,0)"},
{"offset":0.6842,"color":"rgba(255,255,255,0)"},{"offset":0.6842,"color":"#fff"},{"offset":0.7016,"color":"#fff"},{"offset":0.7016,"color":"rgba(255,255,255,0)"},
{"offset":0.7368,"color":"rgba(255,255,255,0)"},{"offset":0.7368,"color":"#fff"},{"offset":0.7542,"color":"#fff"},{"offset":0.7542,"color":"rgba(255,255,255,0)"},
{"offset":0.7895,"color":"rgba(255,255,255,0)"},{"offset":0.7895,"color":"#fff"},{"offset":0.8069,"color":"#fff"},{"offset":0.8069,"color":"rgba(255,255,255,0)"},
{"offset":0.8421,"color":"rgba(255,255,255,0)"},{"offset":0.8421,"color":"#fff"},{"offset":0.8595,"color":"#fff"},{"offset":0.8595,"color":"rgba(255,255,255,0)"},
{"offset":0.8947,"color":"rgba(255,255,255,0)"},{"offset":0.8947,"color":"#fff"},{"offset":0.9121,"color":"#fff"},{"offset":0.9121,"color":"rgba(255,255,255,0)"},
{"offset":0.9474,"color":"rgba(255,255,255,0)"},{"offset":0.9474,"color":"#fff"},{"offset":0.9648,"color":"#fff"},{"offset":0.9648,"color":"rgba(255,255,255,0)"},
{"offset":1,"color":"rgba(255,255,255,0)"}]}},
{"test": "datum.code==='SCP+SE' && datum.wc==='0.6'", "value": {"gradient":"linear","x1":0,"y1":0,"x2":0,"y2":1,"stops":[
{"offset":0,"color":"#fff"},{"offset":0.03,"color":"#fff"},{"offset":0.03,"color":"rgba(255,255,255,0)"},
{"offset":0.0909,"color":"rgba(255,255,255,0)"},{"offset":0.0909,"color":"#fff"},{"offset":0.1209,"color":"#fff"},{"offset":0.1209,"color":"rgba(255,255,255,0)"},
{"offset":0.1818,"color":"rgba(255,255,255,0)"},{"offset":0.1818,"color":"#fff"},{"offset":0.2118,"color":"#fff"},{"offset":0.2118,"color":"rgba(255,255,255,0)"},
{"offset":0.2727,"color":"rgba(255,255,255,0)"},{"offset":0.2727,"color":"#fff"},{"offset":0.3027,"color":"#fff"},{"offset":0.3027,"color":"rgba(255,255,255,0)"},
{"offset":0.3636,"color":"rgba(255,255,255,0)"},{"offset":0.3636,"color":"#fff"},{"offset":0.3936,"color":"#fff"},{"offset":0.3936,"color":"rgba(255,255,255,0)"},
{"offset":0.4545,"color":"rgba(255,255,255,0)"},{"offset":0.4545,"color":"#fff"},{"offset":0.4845,"color":"#fff"},{"offset":0.4845,"color":"rgba(255,255,255,0)"},
{"offset":0.5455,"color":"rgba(255,255,255,0)"},{"offset":0.5455,"color":"#fff"},{"offset":0.5755,"color":"#fff"},{"offset":0.5755,"color":"rgba(255,255,255,0)"},
{"offset":0.6364,"color":"rgba(255,255,255,0)"},{"offset":0.6364,"color":"#fff"},{"offset":0.6664,"color":"#fff"},{"offset":0.6664,"color":"rgba(255,255,255,0)"},
{"offset":0.7273,"color":"rgba(255,255,255,0)"},{"offset":0.7273,"color":"#fff"},{"offset":0.7573,"color":"#fff"},{"offset":0.7573,"color":"rgba(255,255,255,0)"},
{"offset":0.8182,"color":"rgba(255,255,255,0)"},{"offset":0.8182,"color":"#fff"},{"offset":0.8482,"color":"#fff"},{"offset":0.8482,"color":"rgba(255,255,255,0)"},
{"offset":0.9091,"color":"rgba(255,255,255,0)"},{"offset":0.9091,"color":"#fff"},{"offset":0.9391,"color":"#fff"},{"offset":0.9391,"color":"rgba(255,255,255,0)"},
{"offset":1,"color":"rgba(255,255,255,0)"}]}}
], "value": "transparent"}}
},
{"mark": {"type": "bar", "fill": "transparent", "stroke": "#000", "strokeWidth": 2}}
]
},
{"mark": {"type": "rule", "color": "#000", "strokeWidth": 3},
"encoding": {"y": {"field": "lo", "type": "quantitative", "title": "Flexural Strength (MPa)", "scale": {"domain": [1, 8], "nice": false, "zero": false}}, "y2": {"field": "hi"}}},
{"mark": {"type": "tick", "color": "#000", "size": 12, "thickness": 3, "opacity": 1},
"encoding": {"y": {"field": "lo", "type": "quantitative", "title": "Flexural Strength (MPa)", "scale": {"domain": [1, 8], "nice": false, "zero": false}}}},
{"mark": {"type": "tick", "color": "#000", "size": 12, "thickness": 3, "opacity": 1},
"encoding": {"y": {"field": "hi", "type": "quantitative", "title": "Flexural Strength (MPa)", "scale": {"domain": [1, 8], "nice": false, "zero": false}}}}
]
},
{
"data": {"name": "groups"},
"layer": [
{"mark": {"type": "rule", "color": "#000", "strokeWidth": 2.5, "strokeDash": [9, 6]},
"encoding": {"x": {"field": "g0", "type": "quantitative", "scale": {"domain": [0, 12], "nice": false, "zero": false}, "axis": null}, "x2": {"field": "g1"},
"y": {"field": "nac", "type": "quantitative", "title": "Flexural Strength (MPa)", "scale": {"domain": [1, 8], "nice": false, "zero": false}}}},
{"mark": {"type": "text", "align": "right", "baseline": "alphabetic", "dx": -11, "dy": -10, "fontSize": 23, "fontWeight": "bold", "font": "Liberation Sans", "color": "#000"},
"encoding": {"x": {"field": "g1", "type": "quantitative", "scale": {"domain": [0, 12], "nice": false, "zero": false}, "axis": null},
"y": {"field": "nac", "type": "quantitative", "title": "Flexural Strength (MPa)", "scale": {"domain": [1, 8], "nice": false, "zero": false}},
"text": {"value": "NAC1"}}},
{"mark": {"type": "text", "align": "left", "baseline": "alphabetic", "dx": 9, "fontSize": 25, "font": "Lato", "color": "#000"},
"encoding": {"x": {"field": "g0", "type": "quantitative", "scale": {"domain": [0, 12], "nice": false, "zero": false}, "axis": null},
"y": {"datum": 7.268, "type": "quantitative", "title": "Flexural Strength (MPa)", "scale": {"domain": [1, 8], "nice": false, "zero": false}},
"text": {"field": "label"}}},
{"mark": {"type": "rule", "color": "#000", "strokeWidth": 2},
"encoding": {"x": {"field": "g1", "type": "quantitative", "scale": {"domain": [0, 12], "nice": false, "zero": false}, "axis": null},
"y": {"datum": 1, "type": "quantitative", "title": "Flexural Strength (MPa)", "scale": {"domain": [1, 8], "nice": false, "zero": false}}, "y2": {"datum": 8}}},
{"mark": {"type": "rule", "color": "#000", "strokeWidth": 2.5},
"encoding": {"x": {"datum": 0, "type": "quantitative", "scale": {"domain": [0, 12], "nice": false, "zero": false}, "axis": null}, "x2": {"datum": 12},
"y": {"datum": 8, "type": "quantitative", "title": "Flexural Strength (MPa)", "scale": {"domain": [1, 8], "nice": false, "zero": false}}}}
]
}
]
}
